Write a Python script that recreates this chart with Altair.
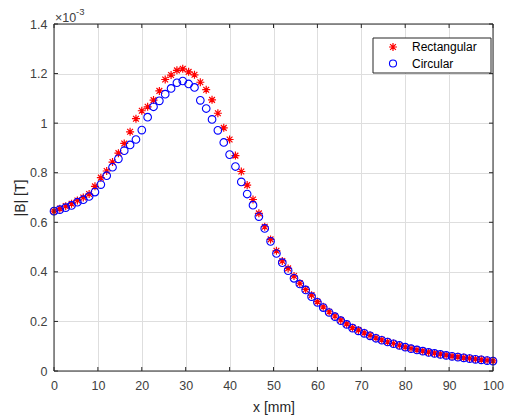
import altair as alt
import pandas as pd

# ---- data (|B| in units of 1e-3 T) ----
x_mm = [0, 1.33, 2.67, 4, 5.33, 6.67, 8, 9.33, 10.67, 12,
        13.33, 14.67, 16, 17.33, 18.67, 20, 21.33, 22.67, 24, 25.33,
        26.67, 28, 29.33, 30.67, 32, 33.33, 34.67, 36, 37.33, 38.67,
        40, 41.33, 42.67, 44, 45.33, 46.67, 48, 49.33, 50.67, 52,
        53.33, 54.67, 56, 57.33, 58.67, 60, 61.33, 62.67, 64, 65.33,
        66.67, 68, 69.33, 70.67, 72, 73.33, 74.67, 76, 77.33, 78.67,
        80, 81.33, 82.67, 84, 85.33, 86.67, 88, 89.33, 90.67, 92,
        93.33, 94.67, 96, 97.33, 98.67, 100]

b_rect = [0.645, 0.655, 0.665, 0.675, 0.688, 0.700, 0.714, 0.745, 0.780, 0.807,
          0.843, 0.879, 0.918, 0.965, 1.018, 1.050, 1.066, 1.093, 1.130, 1.176,
          1.194, 1.213, 1.219, 1.207, 1.195, 1.165, 1.135, 1.094, 1.040, 0.981,
          0.934, 0.869, 0.805, 0.750, 0.692, 0.636, 0.582, 0.531, 0.485, 0.444,
          0.414, 0.383, 0.354, 0.329, 0.306, 0.280, 0.259, 0.239, 0.222, 0.206,
          0.190, 0.175, 0.165, 0.154, 0.144, 0.134, 0.126, 0.118, 0.111, 0.104,
          0.097, 0.091, 0.086, 0.081, 0.076, 0.072, 0.068, 0.064, 0.060, 0.057,
          0.054, 0.051, 0.048, 0.046, 0.043, 0.041]

b_circ = [0.645, 0.651, 0.659, 0.668, 0.681, 0.691, 0.704, 0.722, 0.752, 0.788,
          0.822, 0.856, 0.889, 0.912, 0.934, 0.972, 1.024, 1.066, 1.090, 1.117,
          1.140, 1.163, 1.170, 1.158, 1.144, 1.092, 1.059, 1.015, 0.971, 0.922,
          0.873, 0.825, 0.763, 0.714, 0.669, 0.623, 0.575, 0.523, 0.474, 0.437,
          0.405, 0.374, 0.351, 0.327, 0.300, 0.277, 0.256, 0.236, 0.219, 0.203,
          0.188, 0.173, 0.162, 0.152, 0.142, 0.132, 0.124, 0.117, 0.110, 0.103,
          0.096, 0.090, 0.085, 0.080, 0.075, 0.071, 0.067, 0.063, 0.059, 0.056,
          0.053, 0.050, 0.047, 0.045, 0.042, 0.040]

x_ticks = [0, 10, 20, 30, 40, 50, 60, 70, 80, 90, 100]
y_ticks = [0, 0.2, 0.4, 0.6, 0.8, 1.0, 1.2, 1.4]
series_names = ["Rectangular", "Circular"]
x_title = "x [mm]"
y_title = "|B| [T]"
exp_base = "\u00d710"
exp_power = "-3"

# ---- styling ----
W, H = 439, 347
FONT = "Liberation Sans"
RED = "#ff0000"
BLUE = "#0000ff"
AXC = "#262626"
LBLC = "#404040"
GRIDC = "#dedede"
STAR = "M-1,0L1,0M0,-1L0,1M-0.72,-0.72L0.72,0.72M-0.72,0.72L0.72,-0.72"

df = pd.DataFrame({"x": x_mm, "rect": b_rect, "circ": b_circ})
xt = pd.DataFrame({"v": x_ticks})
yt = pd.DataFrame({"v": y_ticks})

xs = alt.Scale(domain=[0, 100], nice=False, zero=False)
ys = alt.Scale(domain=[0, 1.4], nice=False, zero=False)

xaxis = alt.Axis(values=x_ticks, title=x_title, grid=True, gridColor=GRIDC, gridWidth=1,
                 domain=False, ticks=False, tickSize=0, labelPadding=8, labelFlush=False,
                 labelFont=FONT, labelFontSize=12.5, labelColor=LBLC,
                 titleFont=FONT, titleFontSize=14, titleFontWeight="normal", titleColor=AXC,
                 titleY=36, titleBaseline="middle")
yaxis = alt.Axis(values=y_ticks, title=y_title, grid=True, gridColor=GRIDC, gridWidth=1,
                 domain=False, ticks=False, tickSize=0, labelPadding=7, labelFlush=False,
                 format="~g",
                 labelFont=FONT, labelFontSize=12.5, labelColor=LBLC,
                 titleFont=FONT, titleFontSize=14, titleFontWeight="normal", titleColor=AXC,
                 titleX=-34, titleY=H / 2, titleAngle=270, titleAlign="center",
                 titleBaseline="middle")

X = alt.X("x:Q", scale=xs, axis=xaxis)

stars = alt.Chart(df).mark_point(shape=STAR, filled=False, stroke=RED, strokeWidth=1.2,
                                 size=64, opacity=1).encode(
    x=X, y=alt.Y("rect:Q", scale=ys, axis=yaxis))
circles = alt.Chart(df).mark_point(shape="circle", filled=False, stroke=BLUE, strokeWidth=1.1,
                                   size=58, opacity=1).encode(
    x=X, y=alt.Y("circ:Q", scale=ys, axis=yaxis))

# inward tick marks on all four sides
tick_len = 4
tb = alt.Chart(xt).mark_rule(color=AXC, strokeWidth=1).encode(
    x=alt.X("v:Q", scale=xs, axis=xaxis), y=alt.value(H), y2=alt.value(H - tick_len))
tt = alt.Chart(xt).mark_rule(color=AXC, strokeWidth=1).encode(
    x=alt.X("v:Q", scale=xs, axis=xaxis), y=alt.value(0), y2=alt.value(tick_len))
tl = alt.Chart(yt).mark_rule(color=AXC, strokeWidth=1).encode(
    y=alt.Y("v:Q", scale=ys, axis=yaxis), x=alt.value(0), x2=alt.value(tick_len))
tr = alt.Chart(yt).mark_rule(color=AXC, strokeWidth=1).encode(
    y=alt.Y("v:Q", scale=ys, axis=yaxis), x=alt.value(W), x2=alt.value(W - tick_len))

one = pd.DataFrame({"a": [0]})
frame = alt.Chart(one).mark_rect(fill=None, fillOpacity=0, stroke=AXC, strokeWidth=1).encode(
    x=alt.value(0), x2=alt.value(W), y=alt.value(0), y2=alt.value(H))

# exponent label
exp1 = alt.Chart(pd.DataFrame({"t": [exp_base]})).mark_text(
    font=FONT, fontSize=12.5, color=LBLC, align="left", baseline="middle").encode(
    text="t:N", x=alt.value(1), y=alt.value(-6))
exp2 = alt.Chart(pd.DataFrame({"t": [exp_power]})).mark_text(
    font=FONT, fontSize=9.5, color=LBLC, align="left", baseline="middle").encode(
    text="t:N", x=alt.value(22), y=alt.value(-12))

# legend
LX0, LX1, LY0, LY1 = 319, 437, 14, 49
leg_box = alt.Chart(one).mark_rect(fill="white", stroke=AXC, strokeWidth=1).encode(
    x=alt.value(LX0), x2=alt.value(LX1), y=alt.value(LY0), y2=alt.value(LY1))
leg_s1 = alt.Chart(one).mark_point(shape=STAR, filled=False, stroke=RED, strokeWidth=1.2,
                                   size=64, opacity=1).encode(
    x=alt.value(339), y=alt.value(23))
leg_s2 = alt.Chart(one).mark_point(shape="circle", filled=False, stroke=BLUE, strokeWidth=1.1,
                                   size=50, opacity=1).encode(
    x=alt.value(339), y=alt.value(39.5))
leg_t1 = alt.Chart(pd.DataFrame({"t": [series_names[0]]})).mark_text(
    font=FONT, fontSize=12, color="#000000", align="left", baseline="middle").encode(
    text="t:N", x=alt.value(358), y=alt.value(23))
leg_t2 = alt.Chart(pd.DataFrame({"t": [series_names[1]]})).mark_text(
    font=FONT, fontSize=12, color="#000000", align="left", baseline="middle").encode(
    text="t:N", x=alt.value(358), y=alt.value(39.5))

chart = alt.layer(
    tb, tt, tl, tr, stars, circles, frame, exp1, exp2,
    leg_box, leg_s1, leg_s2, leg_t1, leg_t2
).properties(
    width=W, height=H,
    autosize=alt.AutoSizeParams(type="none"),
    padding={"left": 54, "top": 24, "right": 12, "bottom": 46},
).configure_view(stroke=None).configure(background="white")

chart.save("out.html", embed_options={"renderer": "svg", "actions": False})
